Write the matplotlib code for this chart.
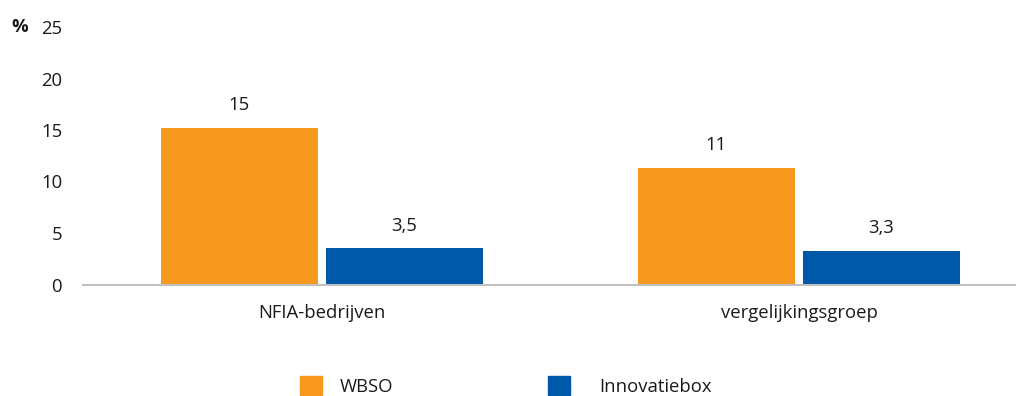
import matplotlib
matplotlib.use("Agg")
import matplotlib.pyplot as plt
import numpy as np
from matplotlib.patches import Patch

plt.rcParams['font.family'] = ['Open Sans', 'DejaVu Sans']

categories = ["NFIA-bedrijven", "vergelijkingsgroep"]
series_names = ["WBSO", "Innovatiebox"]
wbso = [15.2, 11.3]
innovatiebox = [3.5, 3.3]
wbso_labels = ["15", "11"]
innov_labels = ["3,5", "3,3"]
yticks = [0, 5, 10, 15, 20, 25]

c_orange = "#F7981F"
c_blue = "#0058A8"
txt = "#1a1a1a"
fs = 13.3

fig = plt.figure(figsize=(10.16, 3.96), dpi=100)
ax = fig.add_axes([83/1016, 111.5/396, 933/1016, 257.5/396])

x = np.arange(len(categories))
w = 0.329
off = 0.173
b1 = ax.bar(x - off, wbso, width=w, color=c_orange, label=series_names[0])
b2 = ax.bar(x + off, innovatiebox, width=w, color=c_blue, label=series_names[1])

for bars, labs in ((b1, wbso_labels), (b2, innov_labels)):
    for r, lab in zip(bars, labs):
        ax.annotate(lab, (r.get_x() + r.get_width()/2, r.get_height()),
                    xytext=(0, 10), textcoords="offset points",
                    ha="center", va="bottom", fontsize=fs, color=txt)

ax.set_xlim(-0.501, 1.455)
ax.set_ylim(0, 25)
ax.set_yticks(yticks)
ax.set_yticklabels([str(v) for v in yticks])
ax.set_xticks(x)
ax.set_xticklabels(categories)
ax.tick_params(axis='y', length=0, pad=15, labelsize=fs, colors=txt)
ax.tick_params(axis='x', length=0, pad=14, labelsize=fs, colors=txt)
for s in ("top", "right", "left"):
    ax.spines[s].set_visible(False)
ax.spines["bottom"].set_color("#C0C0C0")
ax.spines["bottom"].set_linewidth(1.5)

fig.text(11/1016, 1 - 27/396, "%", fontsize=fs, fontweight="bold",
         ha="left", va="center", color=txt)

handles = [Patch(color=c_orange), Patch(color=c_blue)]
positions = [(300/1016, 1 - 386/396, 0.95), (548/1016, 1 - 386/396, 1.6)]
for h, name, (px, py, tp) in zip(handles, series_names, positions):
    leg = fig.legend([h], [name], loc="center left", bbox_to_anchor=(px, py),
                     frameon=False, borderpad=0, borderaxespad=0,
                     handlelength=1.2, handleheight=1.2, handletextpad=tp,
                     fontsize=fs)
    for t in leg.get_texts():
        t.set_color(txt)

fig.savefig("out.png", dpi=100)
